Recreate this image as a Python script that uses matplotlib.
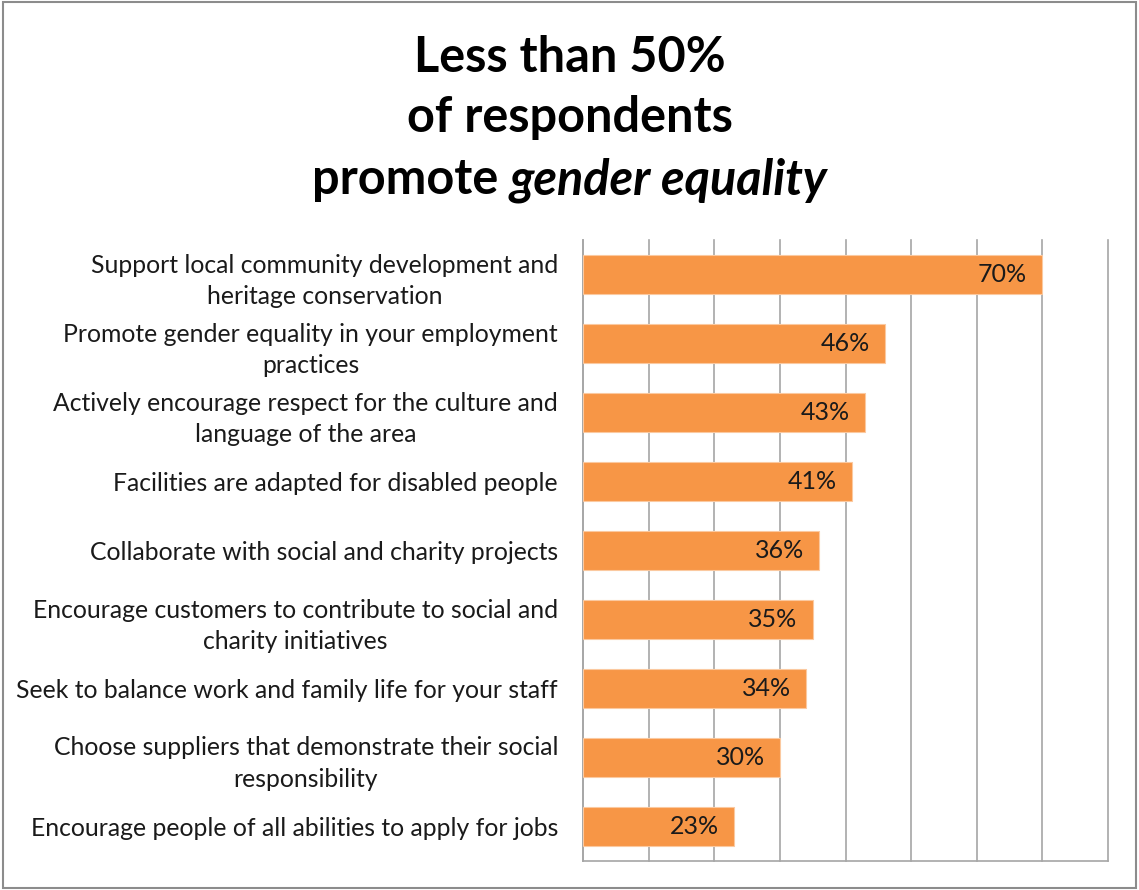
import matplotlib.pyplot as plt
from matplotlib.patches import Rectangle

plt.rcParams['font.family'] = ['Lato', 'DejaVu Sans']

categories = [
    "Support local community development and\nheritage conservation",
    "Promote gender equality in your employment\npractices",
    "Actively encourage respect for the culture and\nlanguage of the area",
    "Facilities are adapted for disabled people",
    "Collaborate with social and charity projects",
    "Encourage customers to contribute to social and\ncharity initiatives",
    "Seek to balance work and family life for your staff",
    "Choose suppliers that demonstrate their social\nresponsibility",
    "Encourage people of all abilities to apply for jobs",
]
values = [70, 46, 43, 41, 36, 35, 34, 30, 23]

bar_color = "#F79646"
grid_color = "#A6A6A6"

fig = plt.figure(figsize=(11.39, 8.90), dpi=100)
ax = fig.add_axes([0.5119, 0.0326, 0.4609, 0.6977])

ypos = list(range(len(values)))
ax.barh(ypos, values, height=0.57, color=bar_color, edgecolor="#FBC9A0",
        linewidth=0.8, zorder=3)
ax.set_ylim(len(values) - 0.5, -0.5)
ax.set_xlim(0, 80)

ax.set_xticks(range(0, 81, 10))
ax.set_xticklabels([])
ax.tick_params(axis="x", length=0)
ax.grid(axis="x", color=grid_color, linewidth=1.2, zorder=0)
for gl in ax.get_xgridlines():
    gl.set_clip_on(False)
ax.set_yticks(ypos)
ax.set_yticklabels(categories, fontsize=17.8, color="#1a1a1a",
                   multialignment="center", linespacing=1.45)
ax.tick_params(axis="y", length=0, pad=18)

for side in ("top", "right"):
    ax.spines[side].set_visible(False)
for side in ("left", "bottom"):
    ax.spines[side].set_color(grid_color)
    ax.spines[side].set_linewidth(1.2)

for y, v in zip(ypos, values):
    ax.annotate(f"{v}%", xy=(v, y), xytext=(-11, 0), textcoords="offset points",
                ha="right", va="center", fontsize=18, color="#1a1a1a", zorder=4)

# title: three centred lines, the last one mixes bold and bold italic
title_size = 35
fig.text(0.5, 1 - 58 / 890, "Less than 50%", ha="center", va="center",
         fontsize=title_size, fontweight="bold")
fig.text(0.5, 1 - 117 / 890, "of respondents", ha="center", va="center",
         fontsize=title_size, fontweight="bold")
y3 = 1 - 180 / 890
t_a = fig.text(0, y3, "promote ", ha="left", va="center",
               fontsize=title_size, fontweight="bold")
t_b = fig.text(0, y3, "gender equality", ha="left", va="center",
               fontsize=title_size, fontweight="bold", style="italic")
fig.canvas.draw()
r = fig.canvas.get_renderer()
wa = t_a.get_window_extent(r).width / fig.bbox.width
wb = t_b.get_window_extent(r).width / fig.bbox.width
x0 = 0.5 - (wa + wb) / 2
t_a.set_x(x0)
t_b.set_x(x0 + wa)

fig.patches.append(Rectangle((0.003, 0.002), 0.994, 0.996, transform=fig.transFigure,
                             fill=False, edgecolor="#8C8C8C", linewidth=1.5))

fig.savefig("out.png", dpi=100)
